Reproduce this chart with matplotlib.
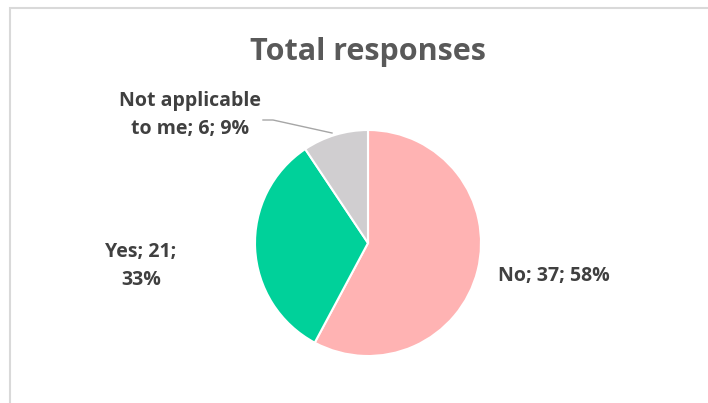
import matplotlib.pyplot as plt
from matplotlib.patches import Rectangle

labels = ["No", "Yes", "Not applicable\nto me"]
counts = [37, 21, 6]
colors = ["#FFB3B3", "#00D19A", "#D0CED0"]

W, H = 708, 403
fig = plt.figure(figsize=(W / 100, H / 100), dpi=100)
ax = fig.add_axes([0, 0, 1, 1])

# chart border
ax.add_patch(Rectangle((9.5, -5), W, H - 7.5 + 5, fill=False, edgecolor="#D9D9D9", lw=1.5))

cx, cy, r = 368, H - 243, 113
ax.pie(counts, colors=colors, startangle=90, counterclock=False,
       center=(cx, cy), radius=r, frame=True,
       wedgeprops=dict(edgecolor="white", linewidth=1.5))
ax.set_xlim(0, W)
ax.set_ylim(0, H)
ax.axis("off")

total = sum(counts)
pct = [round(c / total * 100) for c in counts]
txt = [f"{labels[0]}; {counts[0]}; {pct[0]}%",
       f"{labels[1]}; {counts[1]};\n{pct[1]}%",
       f"{labels[2]}; {counts[2]}; {pct[2]}%"]
font = dict(family="Open Sans", fontweight="bold", color="#404040", fontsize=14,
            ha="center", va="center", linespacing=1.5)
ax.text(554, H - 276, txt[0], **font)
ax.text(141, H - 266, txt[1], **font)
ax.text(190, H - 115, txt[2], **font)
ax.plot([263, 273, 332], [H - 120, H - 120, H - 133], color="#A6A6A6", lw=1)

ax.text(368, H - 52, "Total responses", family="Open Sans", fontweight="bold",
        color="#595959", fontsize=22, ha="center", va="center")

fig.savefig("out.png", dpi=100)
